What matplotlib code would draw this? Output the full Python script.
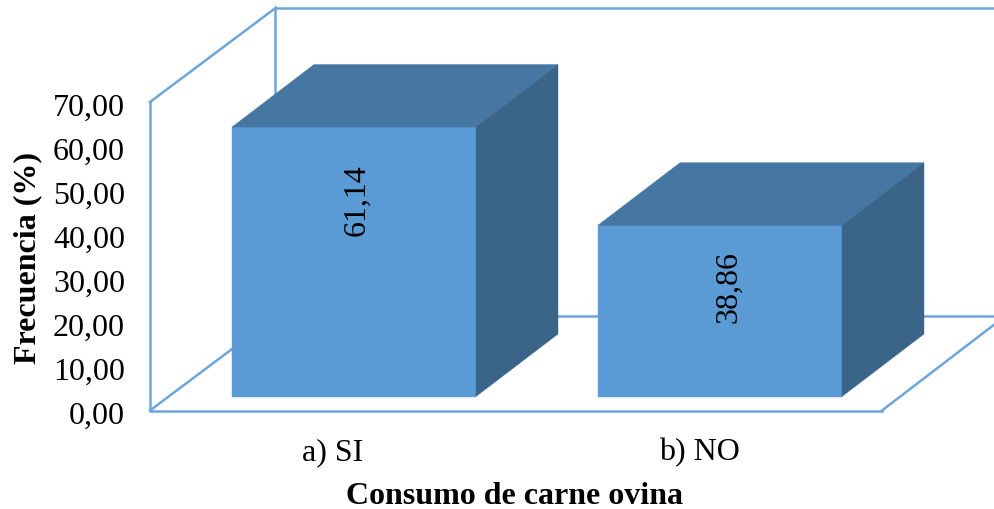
import matplotlib
matplotlib.use("Agg")
import matplotlib.pyplot as plt
from matplotlib.patches import Polygon
from matplotlib.transforms import ScaledTranslation

plt.rcParams['font.family'] = ['Liberation Serif', 'DejaVu Serif']

# Datos
categorias = ['a) SI', 'b) NO']
frecuencia = [61.14, 38.86]
etiquetas = ['61,14', '38,86']
ticks_y = [0, 10, 20, 30, 40, 50, 60, 70]

# Colores
c_frente = '#5B9BD5'
c_techo = '#4676A2'
c_lado = '#3A6488'
c_linea = '#6FA6DA'

W, H = 995, 510
fig = plt.figure(figsize=(W / 100, H / 100), dpi=100)

# Ejes: la cara frontal del piso va de x=150 a x=882 y de y=411.5 a y=103
ax = fig.add_axes([150 / W, 1 - 411.5 / H, 732 / W, 308.5 / H])
ax.set_xlim(-0.5, 1.5)
ax.set_ylim(0, 70)
ax.patch.set_alpha(0)

px = 2 / 732        # unidades x por pixel
py = 70 / 308.5     # unidades y por pixel

# Profundidad de la caja completa y de cada barra
prof_x, prof_y = 125.5 * px, 94 * py
barra_x, barra_y = 82 * px, 62.5 * py
ancho = 244 * px
desp_x, desp_y = 21 * px, 14 * py


def linea(xs, ys):
    ax.plot(xs, ys, color=c_linea, lw=1.8, clip_on=False, solid_joinstyle='miter', zorder=1)


x0, x1 = ax.get_xlim()
y_top = ticks_y[-1]
x_fin = x0 + 845 * px

# Paredes y piso
linea([x0, x0 + prof_x, x0 + prof_x], [y_top, y_top + prof_y, prof_y])
linea([x0 + prof_x, x_fin], [y_top + prof_y, y_top + prof_y])
linea([x0, x0 + prof_x, x_fin], [0, prof_y, prof_y])
linea([x1, x1 + 113 * px], [0, 86.5 * py])
linea([x0, x0, x1], [y_top, 0, 0])

# Barras 3D
for i, v in enumerate(frecuencia):
    izq = i - ancho / 2 + desp_x
    der = izq + ancho
    base = desp_y
    tope = desp_y + v
    caras = [
        ([(izq, base), (der, base), (der, tope), (izq, tope)], c_frente),
        ([(izq, tope), (der, tope), (der + barra_x, tope + barra_y), (izq + barra_x, tope + barra_y)], c_techo),
        ([(der, base), (der + barra_x, base + barra_y), (der + barra_x, tope + barra_y), (der, tope)], c_lado),
    ]
    for pts, color in caras:
        ax.add_patch(Polygon(pts, closed=True, facecolor=color, edgecolor=color, lw=0.3, clip_on=False, zorder=3))

# Etiquetas de valor, giradas dentro de cada barra
ajuste_x = [3, 9]
ajuste_y = [72, 61]
for i, (v, txt) in enumerate(zip(frecuencia, etiquetas)):
    ax.text(i + desp_x + ajuste_x[i] * px, desp_y + v - ajuste_y[i] * py, txt, rotation=90,
            ha='center', va='center', fontsize=23, color='black', zorder=4)

ax.set_xticks([0, 1])
ax.set_xticklabels(categorias, fontsize=23)
ax.set_yticks(ticks_y)
ax.set_yticklabels(['%d,00' % t for t in ticks_y], fontsize=23)
ax.tick_params(axis='both', length=0)
ax.tick_params(axis='x', pad=19)
ax.tick_params(axis='y', pad=18)
for lab in ax.get_yticklabels():
    lab.set_transform(lab.get_transform() + ScaledTranslation(0, -1.5 / 100, fig.dpi_scale_trans))
for s in ax.spines.values():
    s.set_visible(False)

fig.text(515 / W, 1 - 497 / H, 'Consumo de carne ovina', fontsize=23, fontweight='bold', ha='center', va='center')
fig.text(28 / W, 1 - 258 / H, 'Frecuencia (%)', fontsize=23, fontweight='bold', rotation=90, ha='center', va='center')

fig.savefig('out.png', dpi=100)
